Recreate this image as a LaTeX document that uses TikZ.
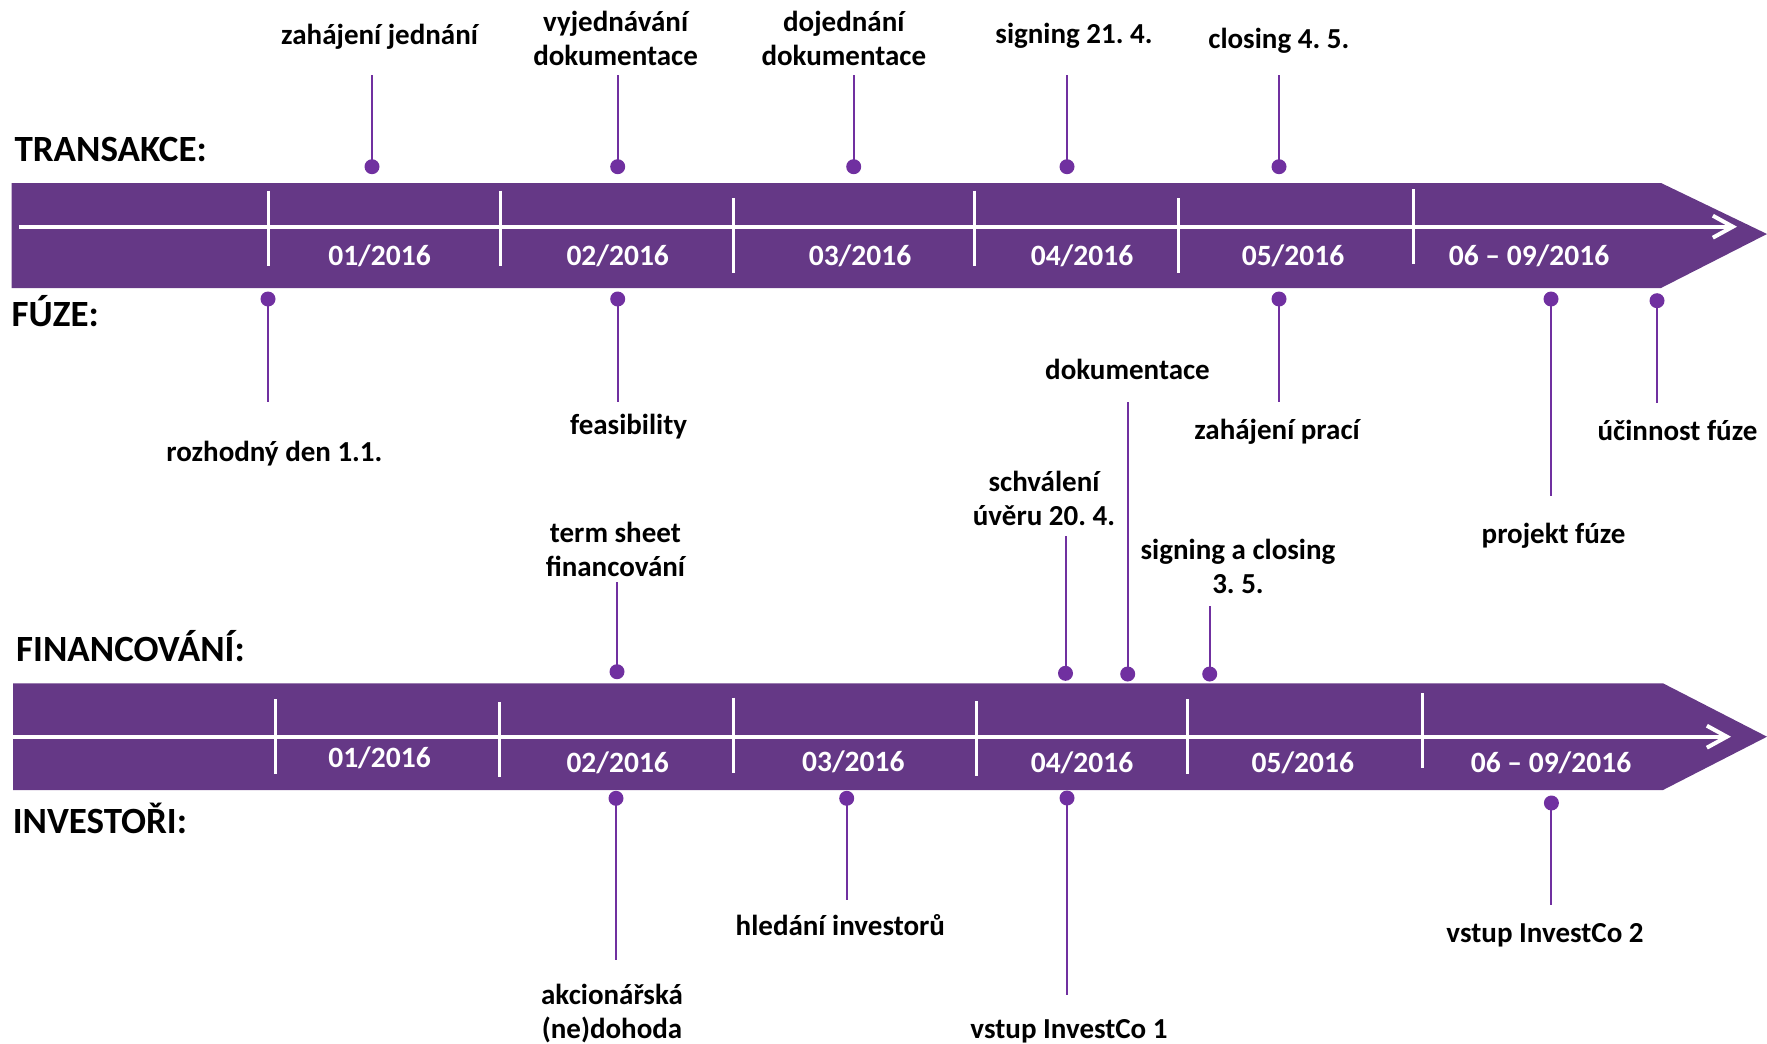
\documentclass[tikz,border=0pt]{standalone}
\usepackage{fontspec}
\setmainfont{Carlito}
\usetikzlibrary{arrows.meta}
\definecolor{barcol}{HTML}{653886}
\definecolor{pincol}{HTML}{7030A0}
\frenchspacing
\begin{document}
\begin{tikzpicture}[x=1pt,y=-1pt,
  lbl/.style={inner sep=0pt,anchor=base,align=center,font=\bfseries\fontsize{29}{34}\selectfont},
  head/.style={inner sep=0pt,anchor=base west,font=\bfseries\fontsize{37}{44}\selectfont},
  month/.style={inner sep=0pt,anchor=base,text=white,font=\bfseries\fontsize{29.5}{35}\selectfont},
  dot/.style={circle,fill=pincol,inner sep=0pt,minimum size=15pt},
  pinline/.style={draw=pincol,line width=2pt},
  tickline/.style={draw=white,line width=3pt},
  axisline/.style={draw=white,line width=4pt,-{Straight Barb[length=20pt,width=22pt]}}]
\useasboundingbox (0,0) rectangle (1767,1044);

% ---------- bars ----------
\fill[barcol] (11.5,183) -- (1661,183) -- (1767,234) -- (1661,288) -- (11.5,288) -- cycle;
\fill[barcol] (13,683.3) -- (1663,683.3) -- (1767,736.7) -- (1663,790) -- (13,790) -- cycle;

\coordinate (ax1s) at (19,226.7);  \coordinate (ax1e) at (1737,226.7);
\coordinate (ax2s) at (13,736.7);  \coordinate (ax2e) at (1731,736.7);
\draw[axisline] (ax1s) -- (ax1e);
\draw[axisline] (ax2s) -- (ax2e);

% ticks top
\draw[tickline] (268,190.7) -- (268,266);
\draw[tickline] (500.6,190.7) -- (500.6,266);
\draw[tickline] (733.7,198) -- (733.7,273);
\draw[tickline] (974.4,190.7) -- (974.4,266);
\draw[tickline] (1178,198) -- (1178,273);
\draw[tickline] (1413,189) -- (1413,264);
% ticks bottom
\draw[tickline] (275,699) -- (275,774);
\draw[tickline] (499.4,702) -- (499.4,777);
\draw[tickline] (733.6,697.7) -- (733.6,772.7);
\draw[tickline] (976.7,701) -- (976.7,776);
\draw[tickline] (1187.7,699) -- (1187.7,774);
\draw[tickline] (1422.4,693) -- (1422.4,768);

% months
\node[month] (m1) at (379.5,265.7) {01/2016};
\node[month] (m2) at (617.7,265.7) {02/2016};
\node[month] (m3) at (860,265.7) {03/2016};
\node[month] (m4) at (1082,265.7) {04/2016};
\node[month] (m5) at (1293,265.7) {05/2016};
\node[month] (m6) at (1529,265.7) {06 – 09/2016};
\node[month] (n1) at (379.5,767.7) {01/2016};
\node[month] (n2) at (617.7,772.7) {02/2016};
\node[month] (n3) at (853.3,771.7) {03/2016};
\node[month] (n4) at (1082,772.7) {04/2016};
\node[month] (n5) at (1302.8,772.7) {05/2016};
\node[month] (n6) at (1551,772.7) {06 – 09/2016};

% headings
\node[head] (hT) at (14.4,161.7) {TRANSAKCE:};
\node[head] (hF) at (11.5,326.7) {FÚZE:};
\node[head] (hN) at (16,661.7) {FINANCOVÁNÍ:};
\node[head] (hI) at (12.6,833.3) {INVESTOŘI:};

% ---------- TRANSAKCE pins ----------
\node[dot] (t1) at (372,166.7) {};    \coordinate (t1e) at (372,75);
\node[dot] (t2) at (617.7,166.7) {};  \coordinate (t2e) at (617.7,75);
\node[dot] (t3) at (853.7,166.7) {};  \coordinate (t3e) at (853.7,75);
\node[dot] (t4) at (1067,166.7) {};   \coordinate (t4e) at (1067,75);
\node[dot] (t5) at (1279,166.7) {};   \coordinate (t5e) at (1279,75);
\foreach \p in {t1,t2,t3,t4,t5} \draw[pinline] (\p.center) -- (\p e);
\node[lbl] (lt1) at (379.6,44.3) {zahájení jednání};
\node[lbl] (lt2) at (615.6,65.7) {vyjednávání\\dokumentace};
\node[lbl] (lt3) at (843.8,65.7) {dojednání\\dokumentace};
\node[lbl] (lt4) at (1074,43.3) {signing 21. 4.};
\node[lbl] (lt5) at (1278.8,48.3) {closing 4. 5.};

% ---------- FUZE pins ----------
\node[dot] (f1) at (268,299) {};     \coordinate (f1e) at (268,401.7);
\node[dot] (f2) at (617.7,299) {};   \coordinate (f2e) at (617.7,401.7);
\node[dot] (f3) at (1279,299) {};    \coordinate (f3e) at (1279,401.7);
\node[dot] (f4) at (1551,299) {};    \coordinate (f4e) at (1551,495.7);
\node[dot] (f5) at (1657,300.7) {};  \coordinate (f5e) at (1657,402.7);
\foreach \p in {f1,f2,f3,f4,f5} \draw[pinline] (\p.center) -- (\p e);
\node[lbl] (lf1) at (274.4,461.7) {rozhodný den 1.1.};
\node[lbl] (lf2) at (628.6,434) {feasibility};
\node[lbl] (lf3) at (1277,439.3) {zahájení prací};
\node[lbl] (lf4) at (1553.6,543.3) {projekt fúze};
\node[lbl] (lf5) at (1677.5,440.7) {účinnost fúze};

% ---------- FINANCOVANI pins ----------
\node[dot] (g1) at (617,671.7) {};    \coordinate (g1e) at (617,581.7);
\node[dot] (g2) at (1065.5,673.3) {}; \coordinate (g2e) at (1065.5,535.7);
\node[dot] (g3) at (1127.7,674) {};   \coordinate (g3e) at (1127.7,401.7);
\node[dot] (g4) at (1209.7,674) {};   \coordinate (g4e) at (1209.7,606);
\foreach \p in {g1,g2,g3,g4} \draw[pinline] (\p.center) -- (\p e);
\node[lbl] (lg1) at (615.4,576.7) {term sheet\\financování};
\node[lbl] (lg2) at (1044,525) {schválení\\úvěru 20. 4.};
\node[lbl] (lg3) at (1127.5,379.3) {dokumentace};
\node[lbl] (lg4) at (1238,593.3) {signing a closing\\3. 5.};

% ---------- INVESTORI pins ----------
\node[dot] (i1) at (616,798.3) {};    \coordinate (i1e) at (616,960);
\node[dot] (i2) at (846.7,798.3) {};  \coordinate (i2e) at (846.7,900);
\node[dot] (i3) at (1067,798) {};     \coordinate (i3e) at (1067,995);
\node[dot] (i4) at (1551.4,803) {};   \coordinate (i4e) at (1551.4,905);
\foreach \p in {i1,i2,i3,i4} \draw[pinline] (\p.center) -- (\p e);
\node[lbl] (li1) at (612,1038.3) {akcionářská\\(ne)dohoda};
\node[lbl] (li2) at (840.3,935) {hledání investorů};
\node[lbl] (li3) at (1069,1038.3) {vstup InvestCo 1};
\node[lbl] (li4) at (1545,942.7) {vstup InvestCo 2};
\end{tikzpicture}
\end{document}
